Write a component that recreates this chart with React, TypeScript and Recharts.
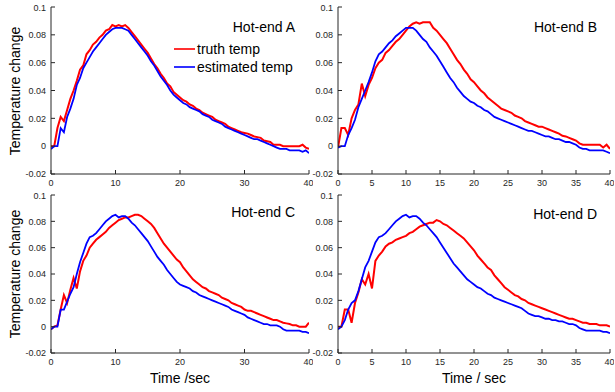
import React from "react";
import { LineChart, Line, XAxis, YAxis } from "recharts";

// time base (s), 0.5 s step
const TIME = [
  0, 0.5, 1, 1.5, 2, 2.5, 3, 3.5, 4, 4.5, 5, 5.5, 6, 6.5, 7, 7.5, 8, 8.5, 9, 9.5,
  10, 10.5, 11, 11.5, 12, 12.5, 13, 13.5, 14, 14.5, 15, 15.5, 16, 16.5, 17, 17.5, 18, 18.5, 19, 19.5,
  20, 20.5, 21, 21.5, 22, 22.5, 23, 23.5, 24, 24.5, 25, 25.5, 26, 26.5, 27, 27.5, 28, 28.5, 29, 29.5,
  30, 30.5, 31, 31.5, 32, 32.5, 33, 33.5, 34, 34.5, 35, 35.5, 36, 36.5, 37, 37.5, 38, 38.5, 39, 39.5,
  40,
];

const TRUTH_A = [
  0, 0, 0.013, 0.021, 0.018, 0.026, 0.034, 0.04, 0.047, 0.055, 0.058, 0.066, 0.069, 0.073, 0.075, 0.078, 0.08, 0.083, 0.084, 0.087,
  0.086, 0.087, 0.086, 0.087, 0.085, 0.082, 0.079, 0.076, 0.073, 0.07, 0.067, 0.063, 0.059, 0.056, 0.052, 0.049, 0.045, 0.043, 0.039, 0.037,
  0.035, 0.033, 0.032, 0.03, 0.029, 0.027, 0.026, 0.024, 0.023, 0.022, 0.021, 0.019, 0.018, 0.017, 0.016, 0.014, 0.013, 0.012, 0.011, 0.01,
  0.0095, 0.009, 0.008, 0.007, 0.0065, 0.006, 0.004, 0.0035, 0.003, 0.001, 0.001, 0.001, 0, 0, 0, 0, 0, 0, 0.001, -0.001,
  -0.002,
];
const EST_A = [
  -0.002, 0, 0, 0.013, 0.01, 0.021, 0.027, 0.034, 0.044, 0.049, 0.056, 0.06, 0.064, 0.068, 0.071, 0.074, 0.077, 0.08, 0.082, 0.084,
  0.085, 0.085, 0.085, 0.084, 0.083, 0.08, 0.077, 0.074, 0.071, 0.068, 0.065, 0.061, 0.058, 0.054, 0.05, 0.047, 0.044, 0.04, 0.037, 0.035,
  0.033, 0.031, 0.03, 0.028, 0.027, 0.026, 0.025, 0.023, 0.022, 0.021, 0.019, 0.018, 0.017, 0.016, 0.014, 0.013, 0.012, 0.011, 0.01, 0.009,
  0.008, 0.007, 0.006, 0.005, 0.005, 0.004, 0.003, 0.002, 0.001, 0, -0.001, -0.002, -0.002, -0.002, -0.003, -0.003, -0.003, -0.003, -0.004, -0.003,
  -0.005,
];

const TRUTH_B = [
  -0.001, 0.013, 0.013, 0.008, 0.02, 0.026, 0.03, 0.045, 0.036, 0.044, 0.049, 0.056, 0.06, 0.062, 0.067, 0.069, 0.072, 0.075, 0.077, 0.08,
  0.083, 0.086, 0.088, 0.089, 0.088, 0.089, 0.089, 0.089, 0.085, 0.083, 0.08, 0.077, 0.074, 0.07, 0.066, 0.062, 0.059, 0.055, 0.052, 0.048,
  0.046, 0.043, 0.04, 0.038, 0.035, 0.033, 0.031, 0.029, 0.027, 0.026, 0.025, 0.024, 0.022, 0.021, 0.02, 0.018, 0.017, 0.016, 0.015, 0.014,
  0.014, 0.013, 0.012, 0.011, 0.01, 0.009, 0.0075, 0.007, 0.006, 0.005, 0.004, 0.002, 0.001, 0.001, 0.001, 0.001, 0.001, 0.001, -0.001, 0.001,
  -0.002,
];
const EST_B = [
  -0.001, 0, 0, 0.008, 0.013, 0.019, 0.028, 0.034, 0.04, 0.046, 0.053, 0.061, 0.066, 0.068, 0.071, 0.074, 0.076, 0.079, 0.081, 0.083,
  0.085, 0.085, 0.085, 0.083, 0.08, 0.077, 0.075, 0.071, 0.068, 0.065, 0.061, 0.057, 0.053, 0.049, 0.046, 0.042, 0.039, 0.036, 0.034, 0.032,
  0.031, 0.029, 0.028, 0.026, 0.025, 0.023, 0.021, 0.02, 0.019, 0.018, 0.017, 0.016, 0.015, 0.014, 0.013, 0.012, 0.011, 0.011, 0.01, 0.009,
  0.008, 0.007, 0.007, 0.006, 0.005, 0.005, 0.004, 0.003, 0.003, 0.002, 0.001, -0.001, -0.002, -0.002, -0.003, -0.003, -0.003, -0.003, -0.003, -0.004,
  -0.005,
];

const TRUTH_C = [
  -0.002, 0, 0.001, 0.013, 0.024, 0.018, 0.028, 0.037, 0.029, 0.042, 0.05, 0.054, 0.06, 0.063, 0.066, 0.068, 0.07, 0.072, 0.075, 0.077,
  0.079, 0.081, 0.082, 0.083, 0.083, 0.084, 0.085, 0.085, 0.084, 0.082, 0.08, 0.078, 0.075, 0.071, 0.067, 0.063, 0.06, 0.057, 0.054, 0.051,
  0.049, 0.045, 0.042, 0.039, 0.036, 0.034, 0.032, 0.03, 0.029, 0.027, 0.026, 0.025, 0.024, 0.022, 0.021, 0.02, 0.018, 0.017, 0.016, 0.015,
  0.013, 0.012, 0.012, 0.011, 0.01, 0.009, 0.008, 0.007, 0.006, 0.005, 0.005, 0.004, 0.003, 0.0025, 0.002, 0.001, 0.001, 0, 0, 0,
  0.003,
];
const EST_C = [
  -0.002, 0, 0, 0.013, 0.013, 0.019, 0.025, 0.03, 0.04, 0.049, 0.056, 0.063, 0.068, 0.069, 0.071, 0.074, 0.077, 0.08, 0.082, 0.084,
  0.085, 0.083, 0.084, 0.084, 0.082, 0.079, 0.077, 0.074, 0.071, 0.068, 0.065, 0.061, 0.057, 0.053, 0.05, 0.047, 0.043, 0.04, 0.037, 0.034,
  0.032, 0.031, 0.03, 0.029, 0.027, 0.026, 0.024, 0.023, 0.022, 0.021, 0.02, 0.019, 0.018, 0.017, 0.016, 0.015, 0.013, 0.012, 0.011, 0.01,
  0.009, 0.007, 0.006, 0.005, 0.004, 0.003, 0.002, 0.002, 0.001, 0.001, 0.001, 0, -0.002, -0.003, -0.003, -0.003, -0.003, -0.003, -0.004, -0.004,
  -0.005,
];

const TRUTH_D = [
  0, 0, 0.013, 0.013, 0.003, 0.018, 0.026, 0.036, 0.032, 0.04, 0.029, 0.05, 0.054, 0.057, 0.061, 0.063, 0.064, 0.066, 0.067, 0.068,
  0.069, 0.071, 0.072, 0.074, 0.076, 0.077, 0.078, 0.079, 0.079, 0.081, 0.08, 0.078, 0.077, 0.075, 0.073, 0.071, 0.069, 0.067, 0.064, 0.061,
  0.058, 0.054, 0.051, 0.048, 0.045, 0.043, 0.039, 0.036, 0.033, 0.03, 0.028, 0.026, 0.024, 0.023, 0.021, 0.02, 0.018, 0.017, 0.016, 0.015,
  0.014, 0.013, 0.012, 0.011, 0.01, 0.009, 0.008, 0.007, 0.006, 0.006, 0.005, 0.004, 0.003, 0.003, 0.002, 0.002, 0.002, 0.001, 0.001, 0.001,
  0,
];
const EST_D = [
  -0.002, 0, 0.005, 0.013, 0.018, 0.02, 0.027, 0.036, 0.045, 0.05, 0.057, 0.064, 0.068, 0.069, 0.071, 0.074, 0.077, 0.08, 0.082, 0.084,
  0.085, 0.083, 0.084, 0.084, 0.082, 0.079, 0.077, 0.074, 0.071, 0.068, 0.064, 0.06, 0.056, 0.052, 0.048, 0.045, 0.042, 0.039, 0.036, 0.034,
  0.032, 0.03, 0.029, 0.027, 0.025, 0.024, 0.022, 0.021, 0.02, 0.019, 0.018, 0.017, 0.016, 0.015, 0.014, 0.012, 0.01, 0.009, 0.008, 0.008,
  0.007, 0.006, 0.006, 0.005, 0.005, 0.004, 0.004, 0.003, 0.002, 0.002, 0.001, -0.001, -0.002, -0.003, -0.003, -0.003, -0.003, -0.003, -0.004, -0.004,
  -0.005,
];

const Y_TICKS = [-0.02, 0, 0.02, 0.04, 0.06, 0.08, 0.1];
const X_TICKS_10 = [0, 10, 20, 30, 40];
const X_TICKS_5 = [0, 5, 10, 15, 20, 25, 30, 35, 40];

const AXIS = "#262626";
const FONT = "'Liberation Sans', Arial, Helvetica, sans-serif";
const YW = 40;
const XH = 22;
const MT = 4;
const MR = 4;

const fmt = (v: number) => String(Number(v.toFixed(2)));

function Panel({ truth, est, left, top, w, h, xTicks }: {
  truth: number[]; est: number[]; left: number; top: number; w: number; h: number; xTicks: number[];
}) {
  const data = TIME.map((t, i) => ({ t, truth: truth[i], est: est[i] }));
  return (
    <div style={{ position: "absolute", left: left - YW, top: top - MT }}>
      <LineChart width={YW + w + MR} height={MT + h + XH} data={data}
        margin={{ top: MT, right: MR, bottom: 0, left: 0 }}>
        <XAxis xAxisId="b" dataKey="t" type="number" domain={[0, 40]} ticks={xTicks}
          height={XH} stroke={AXIS} tickSize={-4} tickMargin={10}
          tick={{ fill: AXIS, fontSize: 9 }} allowDataOverflow />
        <XAxis xAxisId="t" orientation="top" dataKey="t" type="number" domain={[0, 40]}
          ticks={xTicks} height={0} stroke={AXIS} tickSize={-4} tick={false} />
        <YAxis yAxisId="l" type="number" domain={[-0.02, 0.1]} ticks={Y_TICKS} width={YW}
          stroke={AXIS} tickSize={-4} tickMargin={9} tickFormatter={fmt}
          tick={{ fill: AXIS, fontSize: 9 }} allowDataOverflow />
        <YAxis yAxisId="r" orientation="right" type="number" domain={[-0.02, 0.1]} ticks={Y_TICKS}
          width={0} stroke={AXIS} tickSize={-4} tick={false} />
        <Line xAxisId="b" yAxisId="l" dataKey="truth" stroke="#ff0000" strokeWidth={2}
          dot={false} type="linear" isAnimationActive={false} />
        <Line xAxisId="b" yAxisId="l" dataKey="est" stroke="#0000ff" strokeWidth={1.8}
          dot={false} type="linear" isAnimationActive={false} />
      </LineChart>
    </div>
  );
}

const label = (text: string, x: number, y: number, anchor: "center" | "end", extra?: React.CSSProperties) => (
  <div style={{
    position: "absolute", left: x, top: y, whiteSpace: "nowrap", fontSize: 14, lineHeight: 1,
    color: "#000", transform: anchor === "center" ? "translate(-50%, -50%)" : "translate(-100%, -50%)",
    ...extra,
  }}>{text}</div>
);

export default function App() {
  return (
    <div style={{ position: "absolute", left: 0, top: 0, width: 615, height: 392, background: "#fff", fontFamily: FONT, overflow: "hidden" }}>
      <Panel truth={TRUTH_A} est={EST_A} left={51} top={7} w={258} h={167} xTicks={X_TICKS_10} />
      <Panel truth={TRUTH_B} est={EST_B} left={338} top={7} w={272} h={167} xTicks={X_TICKS_5} />
      <Panel truth={TRUTH_C} est={EST_C} left={51} top={195} w={258} h={158} xTicks={X_TICKS_10} />
      <Panel truth={TRUTH_D} est={EST_D} left={338} top={195} w={272} h={158} xTicks={X_TICKS_5} />

      {label("Hot-end A", 295, 27, "end")}
      {label("Hot-end B", 597, 27, "end")}
      {label("Hot-end C", 295, 212, "end")}
      {label("Hot-end D", 597, 214, "end")}

      {label("Temperature change", 15, 91, "center", { transform: "translate(-50%, -50%) rotate(-90deg)" })}
      {label("Temperature change", 15, 274, "center", { transform: "translate(-50%, -50%) rotate(-90deg)" })}
      {label("Time /sec", 180, 378, "center")}
      {label("Time / sec", 474, 378, "center")}

      <div style={{ position: "absolute", left: 174, top: 48, width: 21, height: 2, background: "#ff3030" }} />
      <div style={{ position: "absolute", left: 174, top: 66, width: 21, height: 2, background: "#3030ff" }} />
      {label("truth temp", 197, 49, "center", { transform: "translate(0, -50%)" })}
      {label("estimated temp", 197, 67, "center", { transform: "translate(0, -50%)" })}
    </div>
  );
}
